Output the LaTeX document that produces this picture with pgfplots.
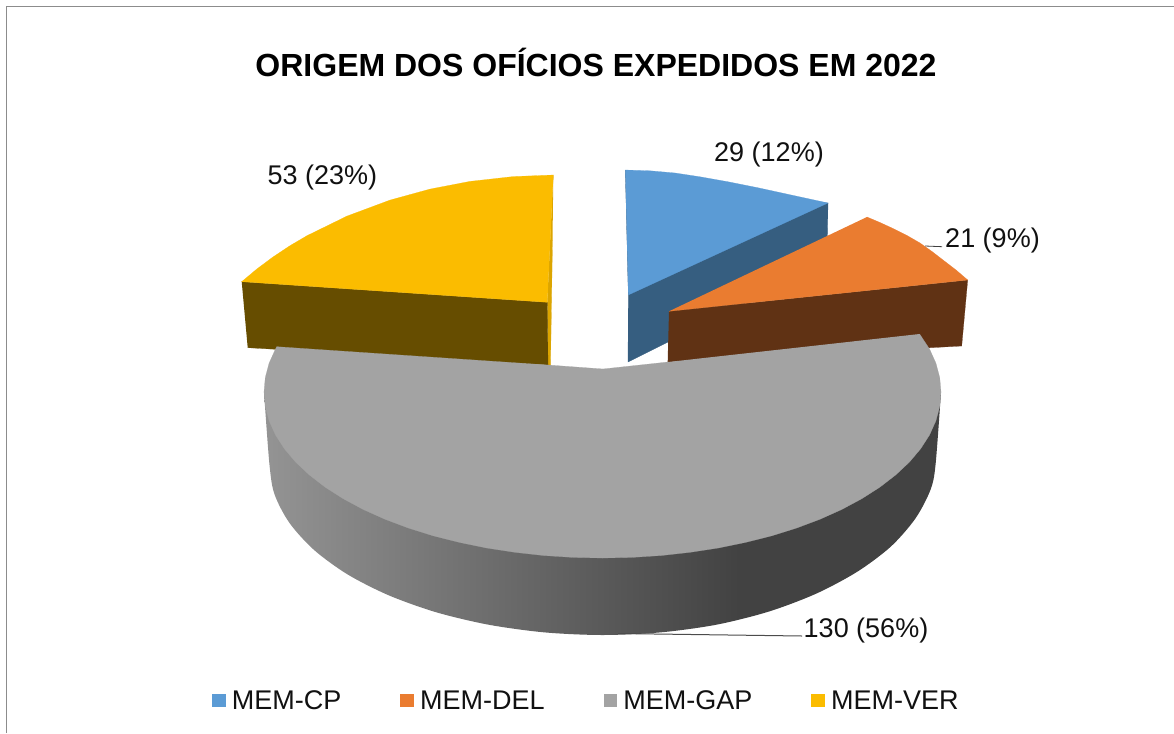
\documentclass[border=0pt]{standalone}
\usepackage{pgfplots}
\pgfplotsset{compat=1.18}
\usepackage{fontspec}
\setmainfont{Liberation Sans}
\definecolor{cblue}{HTML}{5B9BD5}
\definecolor{cblued}{HTML}{365E80}
\definecolor{corange}{HTML}{EA7C30}
\definecolor{coranged}{HTML}{603214}
\definecolor{cgray}{HTML}{A3A3A3}
\definecolor{cyellow}{HTML}{FBBC00}
\definecolor{cyellowd}{HTML}{664D00}
\definecolor{cyellows}{HTML}{DCA500}
\definecolor{cframe}{HTML}{8C8C8C}
\definecolor{ctext}{HTML}{111111}
\pgfdeclarehorizontalshading{pieside}{100bp}{
  color(0bp)=(black!42); color(25bp)=(black!42); color(60bp)=(black!74); color(100bp)=(black!74)}
\pgfplotsset{
  F/.style={fill=#1,draw=#1,line width=0.2pt,forget plot},
}
\begin{document}
\begin{tikzpicture}
\begin{axis}[
  scale only axis, width=1174pt, height=733pt,
  xmin=0, xmax=1174, ymin=0, ymax=733, y dir=reverse,
  axis lines=none, clip=true,
  legend image code/.code={\fill[#1,draw=none] (0pt,-6.7pt) rectangle (13.8pt,6.7pt);},
  legend style={draw=none, fill=none, at={(axis cs:212,700.5)}, anchor=west,
    legend columns=4, inner sep=0pt, outer sep=0pt,
    font=\fontsize{27}{30}\selectfont\color{ctext},
    nodes={inner sep=0pt, outer sep=0pt},
    /tikz/every even column/.style={column sep=59pt},
    /tikz/every odd column/.style={column sep=6pt}},
]
% background and frame
\addplot[fill=white,draw=none,forget plot] coordinates {(0,0)(1174,0)(1174,733)(0,733)};
\addplot[draw=cframe,line width=1.2pt,forget plot] coordinates {(6.5,733)(6.5,6.5)(1174,6.5)};

% MEM-CP (29)
\addplot[F=cblued] coordinates {(625.3,170)(628.3,295)(628,362)(827,263)(828,203)};
\addplot[F=cblue] coordinates {(625.3,170)(650,170.8)(675,173)(700,176.8)(727,181.6)(760,188.2)(793,195.4)(828,203)(628.3,295)};

% MEM-DEL (21)
\addplot[F=coranged] coordinates {(669,311.3)(967.7,280)(961.7,346)(667.7,362)};
\addplot[F=corange] coordinates {(867,217)(880,222.5)(893,228.5)(907,235.5)(920,243)(932,251.5)(943,260)(956,270)(967.7,280)(669,311.3)};

% MEM-VER (53)
\addplot[F=cyellows] coordinates {(553.3,175)(547.3,302.3)(548,365)(550.5,365)(552.5,240)};
\addplot[F=cyellowd] coordinates {(241.7,281.7)(547.3,302.3)(548,365)(247.7,347.7)};
\addplot[F=cyellow] coordinates {(553.3,175)(513,176.6)(470,181.4)(430,189.1)(390,200.1)(347,216.1)(307,235.7)(290,245.7)(273,257)(257,268.9)(241.7,281.7)(547.3,302.3)};

% MEM-GAP (130): side with gradient
\addplot[shade,shading=pieside,draw=none,smooth,forget plot] coordinates {
 (941,392)(935.5,465)(930.4,490)(915.4,518.5)(890.9,546.5)(857.6,571.5)(816.5,593.5)(769,611.5)(716.4,624.7)(660.3,632.4)(602.5,635)
 (544.7,632.4)(488.6,624.7)(436,612.2)(388.5,595.2)(347.4,574.3)(314.1,550)(289.6,523.1)(274.6,494.5)(269.5,465)(264,392)};
% MEM-GAP top
\addplot[F=cgray] coordinates {(919.6,334)(929.5,349)(935.9,363.2)(939.7,377.5)(941,392)(939.7,406.5)(935.9,420.8)(929.5,435)(920.6,448.8)(909.3,462.2)(895.6,475)(879.8,487.2)(861.8,498.7)(841.9,509.4)(820.1,519.2)(796.7,528)(771.8,535.8)(745.6,542.4)(718.3,548)(690.1,552.3)(661.3,555.5)(632,557.4)(602.5,558)(573,557.4)(543.7,555.5)(514.9,552.3)(486.7,548)(459.4,542.4)(433.2,535.8)(408.3,528)(384.9,519.2)(363.1,509.4)(343.2,498.7)(325.2,487.2)(309.4,475)(295.7,462.2)(284.4,448.8)(275.5,435)(269.1,420.8)(265.3,406.5)(264,392)(265.3,377.5)(269.1,363.2)(275.5,349)(276.7,346.7)(548,365)(603,369)(668,362)};

% leader lines
\addplot[draw=black!75,line width=0.8pt,forget plot] coordinates {(925,246)(942,246.7)};
\addplot[draw=black!70,line width=1pt,forget plot] coordinates {(618,633.5)(802,636)};

% labels
\node[font=\fontsize{27}{30}\selectfont,text=ctext,inner sep=0pt] at (axis cs:769,155) {29 (12\%)};
\node[font=\fontsize{27}{30}\selectfont,text=ctext,inner sep=0pt] at (axis cs:992.5,240.5) {21 (9\%)};
\node[font=\fontsize{27}{30}\selectfont,text=ctext,inner sep=0pt] at (axis cs:322.5,178) {53 (23\%)};
\node[font=\fontsize{27}{30}\selectfont,text=ctext,inner sep=0pt] at (axis cs:866,630.5) {130 (56\%)};
\node[font=\fontsize{32}{34}\selectfont\bfseries,text=black,inner sep=0pt] at (axis cs:596,62) {ORIGEM DOS OFÍCIOS EXPEDIDOS EM 2022};

% legend
\addlegendimage{fill=cblue}
\addlegendentry{MEM-CP}
\addlegendimage{fill=corange}
\addlegendentry{MEM-DEL}
\addlegendimage{fill=cgray}
\addlegendentry{MEM-GAP}
\addlegendimage{fill=cyellow}
\addlegendentry{MEM-VER}
\end{axis}
\end{tikzpicture}
\end{document}
